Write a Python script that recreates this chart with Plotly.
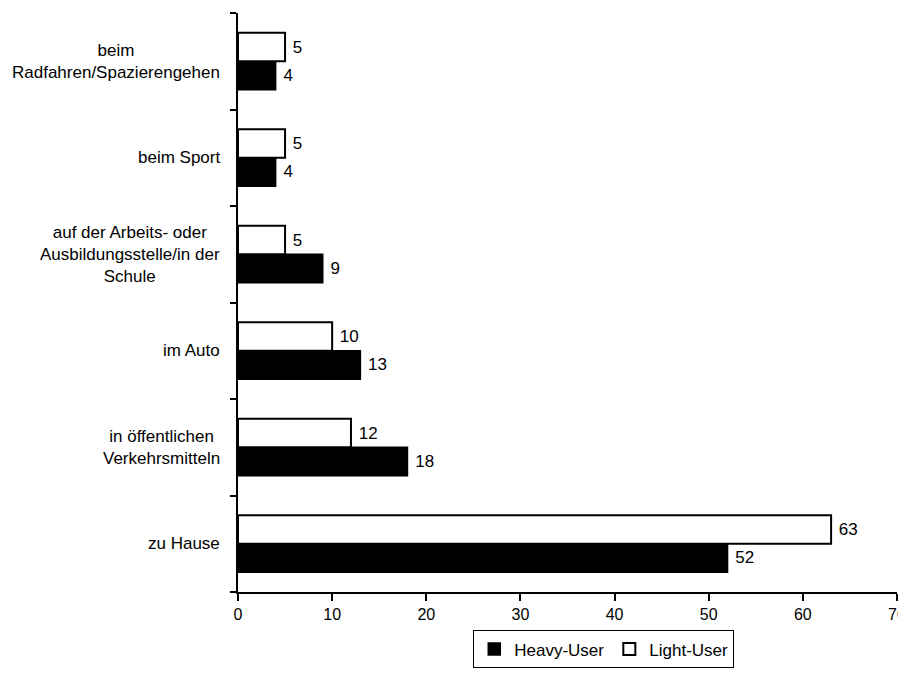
import plotly.graph_objects as go

categories = [
    "zu Hause",
    "in öffentlichen<br>Verkehrsmitteln",
    "im Auto",
    "auf der Arbeits- oder<br>Ausbildungsstelle/in der<br>Schule",
    "beim Sport",
    "beim<br>Radfahren/Spazierengehen",
]
heavy_user = [52, 18, 13, 9, 4, 4]
light_user = [63, 12, 10, 5, 5, 5]
x_ticks = [0, 10, 20, 30, 40, 50, 60, 70]

FONT = "Liberation Sans Narrow, Arial Narrow, Liberation Sans, Arial, sans-serif"
ids = list(range(len(categories)))
NB = "\u00a0"

fig = go.Figure()
fig.add_trace(go.Bar(
    y=ids, x=heavy_user, orientation="h", name="Heavy-User",
    marker=dict(color="black", line=dict(color="black", width=1.5)),
    text=[NB + str(v) for v in heavy_user], textposition="outside",
    textfont=dict(family=FONT, size=17, color="black"), cliponaxis=False,
))
fig.add_trace(go.Bar(
    y=ids, x=light_user, orientation="h", name="Light-User",
    marker=dict(color="white", line=dict(color="black", width=2)),
    text=[NB + str(v) for v in light_user], textposition="outside",
    textfont=dict(family=FONT, size=17, color="black"), cliponaxis=False,
))

for i, c in enumerate(categories):
    fig.add_annotation(
        x=-0.024, xref="paper", y=i, yref="y", text=c, showarrow=False,
        xanchor="right", yanchor="middle", align="center",
        font=dict(family=FONT, size=17, color="black"),
    )

fig.update_layout(
    width=898, height=665,
    margin=dict(l=230, r=9, t=5, b=81, autoexpand=False),
    paper_bgcolor="white", plot_bgcolor="white",
    barmode="group", bargap=0.41, bargroupgap=0,
    font=dict(family=FONT, size=16, color="black"),
    showlegend=True,
    legend=dict(
        orientation="h", x=0.555, xanchor="center", y=-0.132, yanchor="bottom",
        traceorder="normal", bordercolor="black", borderwidth=1,
        font=dict(family=FONT, size=17, color="black"),
        itemwidth=30, tracegroupgap=0,
    ),
)
fig.update_xaxes(
    range=[0, 70], tickvals=x_ticks, ticks="outside", ticklen=7, tickwidth=2,
    tickcolor="black", showline=True, linecolor="black", linewidth=2,
    showgrid=False, zeroline=False, tickfont=dict(family=FONT, size=16),
    automargin=False,
)
fig.update_yaxes(
    type="category", categoryorder="array", categoryarray=ids,
    range=[-0.5, 5.5], tickson="boundaries",
    ticks="outside", ticklen=6, tickwidth=2, tickcolor="black",
    showticklabels=False, showline=True, linecolor="black", linewidth=2,
    showgrid=False, zeroline=False, automargin=False,
)
fig.write_html("out.html")
